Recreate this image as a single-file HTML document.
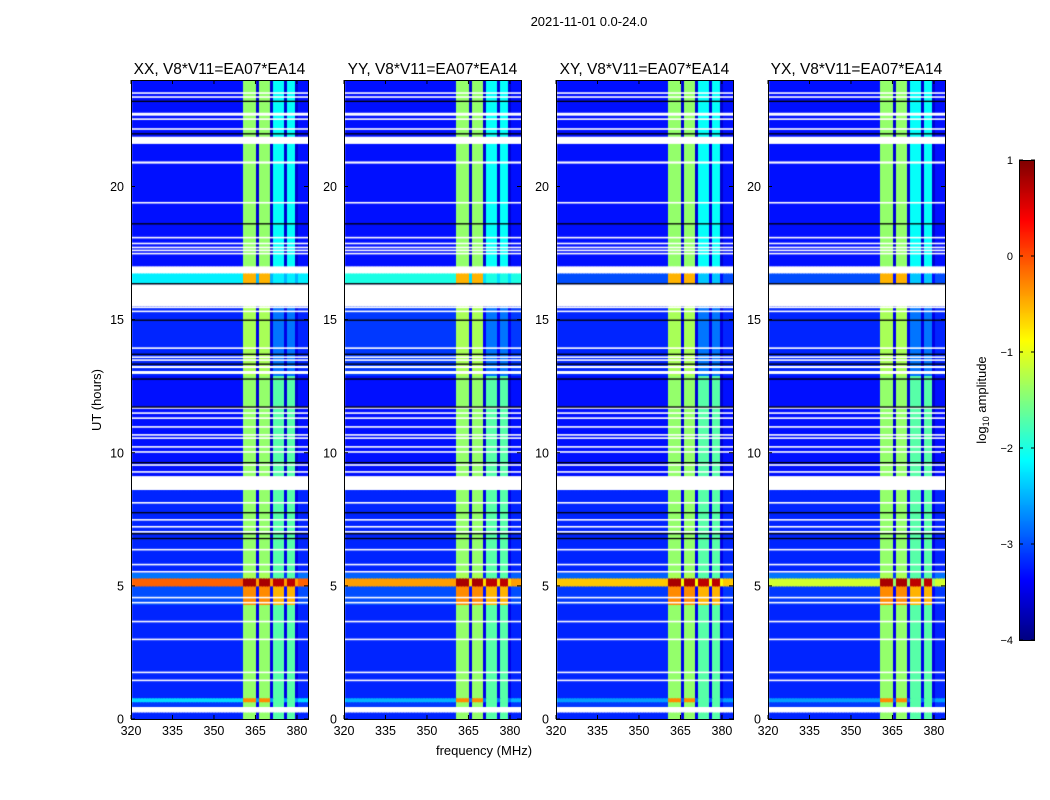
<!DOCTYPE html>
<html><head><meta charset="utf-8">
<style>
body{margin:0;background:#fff;width:1050px;height:800px;overflow:hidden;font-family:"Liberation Sans",sans-serif;position:relative}
canvas{position:absolute}
svg{position:absolute;left:0;top:0}
</style></head>
<body>
<div id="root"></div>
<svg id="svg" width="1050" height="800"></svg>
<script>
// ---- data ----
const panelTitles = ["XX, V8*V11=EA07*EA14","YY, V8*V11=EA07*EA14","XY, V8*V11=EA07*EA14","YX, V8*V11=EA07*EA14"];
const xTicks = [320,335,350,365,380];
const yTicks = [0,5,10,15,20];
const cbTicks = [1,0,-1,-2,-3,-4];
// frequency channel RFI band group (0=none, 1..4 bands, 9=gap)
const channelStartMHz = 320, channelCount = 64;
const bandGroup = [0,0,0,0,0,0,0,0,0,0,0,0,0,0,0,0,0,0,0,0,0,0,0,0,0,0,0,0,0,0,0,0,0,0,0,0,0,0,0,0,
  1,1,1,1,1,9,2,2,2,2,9,3,3,3,3,9,4,4,4,9,0,0,0,0];
// time segments: start h, end h, background log-amp, band1/2 level, band3/4 level
const segStart = [0,   0.45, 0.65, 0.8, 4.3, 5.0, 5.3, 5.5, 9.1, 12.9, 16.3, 16.37, 17.0];
const segEnd   = [0.25,0.65, 0.8,  4.3, 5.0, 5.3, 5.5, 8.6, 12.9,15.5, 16.37,16.74, 24.0];
const segBgXX  = [-3.2,-3.1,-2.3,-3.2,-3.0,-0.1,-2.8,-3.2,-3.3,-3.2,-3.2,-2.2,-3.3];
const segBgYY  = [-3.2,-3.1,-2.5,-3.2,-3.0,-0.4,-2.9,-3.2,-3.3,-3.1,-3.2,-2.0,-3.3];
const segBgXY  = [-3.2,-3.1,-2.6,-3.2,-3.1,-0.6,-2.9,-3.2,-3.3,-3.2,-3.2,-3.0,-3.3];
const segBgYX  = [-3.2,-3.1,-2.6,-3.2,-3.1,-1.1,-2.8,-3.2,-3.3,-3.2,-3.2,-3.0,-3.3];
const segBandA = [-1.4,-1.4,-0.3,-1.4,-0.3, 0.8,-1.3,-1.4,-1.4,-1.3,-1.3,-0.5,-1.4];
const segBandB = [-1.7,-1.7,-1.7,-1.7,-0.5, 0.7,-1.7,-1.7,-1.7,-2.8,-2.8,-2.4,-2.1];
// flagged (white) rows, hours
const flagStart = [0.25,1.42,1.72,2.96,3.63,4.34,4.53,5.5,5.77,6.33,7.0,7.19,7.45,8.09,8.6,9.06,9.25,9.51,10.0,10.19,10.52,10.64,10.94,11.27,11.46,11.65,12.96,13.18,13.45,13.56,13.9,15.28,15.43,15.5,16.74,17.45,17.57,17.68,17.83,18.05,19.36,20.86,21.6,22.13,22.5,22.66,23.33,23.48];
const flagEnd   = [0.45,1.48,1.78,3.02,3.69,4.40,4.59,5.56,5.83,6.39,7.06,7.25,7.51,8.15,9.1, 9.12,9.31,9.57,10.06,10.25,10.58,10.70,11.0,11.33,11.52,11.71,13.07,13.26,13.51,13.62,13.96,15.34,15.49,16.33,17.0,17.51,17.63,17.74,17.89,18.11,19.42,20.94,21.87,22.19,22.56,22.77,23.39,23.54];
// black (zero) rows, hours
const blackRows = [6.78,6.96,7.75,9.63,11.72,12.77,13.33,13.7,14.98,16.35,18.6,21.98,23.2];

// ---- layout ----
const panelLeft=[131,344,556,768], panelW=177, plotTop=80, plotBottom=719;
const yScale=h=>plotBottom-(h/24)*(plotBottom-plotTop);
const xScale=f=>(f-320)/64*panelW;
function jet(v){let t=(v+4)/5;t=Math.max(0,Math.min(1,t));
 const r=Math.max(0,Math.min(1,1.5-Math.abs(4*t-3))),g=Math.max(0,Math.min(1,1.5-Math.abs(4*t-2))),b=Math.max(0,Math.min(1,1.5-Math.abs(4*t-1)));
 return `rgb(${Math.round(r*255)},${Math.round(g*255)},${Math.round(b*255)})`;}
const NS="http://www.w3.org/2000/svg";
const svgEl=document.getElementById('svg');
function T(x,y,s,size,anchor,extra){const e=document.createElementNS(NS,'text');e.setAttribute('x',x);e.setAttribute('y',y);e.setAttribute('font-size',size);e.setAttribute('text-anchor',anchor||'middle');e.setAttribute('font-family','Liberation Sans, sans-serif');if(extra)e.setAttribute('transform',extra);e.textContent=s;svgEl.appendChild(e);return e;}
function L(x1,y1,x2,y2,c,w){const e=document.createElementNS(NS,'line');e.setAttribute('x1',x1);e.setAttribute('y1',y1);e.setAttribute('x2',x2);e.setAttribute('y2',y2);e.setAttribute('stroke',c||'#000');e.setAttribute('stroke-width',w||1);svgEl.appendChild(e);return e;}
const bgs=[segBgXX,segBgYY,segBgXY,segBgYX];
const rootEl=document.getElementById('root');
panelLeft.forEach((px,p)=>{
 const c=document.createElement('canvas');c.width=panelW;c.height=plotBottom-plotTop;c.style.left=px+'px';c.style.top=plotTop+'px';
 
 
 rootEl.appendChild(c);const ctx=c.getContext('2d');
 ctx.fillStyle='#fff';ctx.fillRect(0,0,c.width,c.height);
 for(let s=0;s<segStart.length;s++){
  const y0=yScale(segEnd[s])-plotTop,y1=yScale(segStart[s])-plotTop;
  for(let ch=0;ch<channelCount;ch++){
   const g=bandGroup[ch];let v=bgs[p][s];
   if(g===1||g===2)v=Math.max(v,segBandA[s]);
   else if(g===3||g===4)v=Math.max(v,segBandB[s]);
   else if(g===9)v=Math.max(v-0.3,-3.6);
   ctx.fillStyle=jet(v);
   const xa=xScale(channelStartMHz+ch+0.5),xb=xScale(channelStartMHz+ch+1.5);
   ctx.fillRect(Math.floor(xa),y0,Math.ceil(xb)-Math.floor(xa),y1-y0+0.5);
  }}
 ctx.fillStyle='#fff';
 for(let i=0;i<flagStart.length;i++){const y0=yScale(flagEnd[i])-plotTop,y1=yScale(flagStart[i])-plotTop;ctx.fillRect(0,y0,panelW,y1-y0);}
 ctx.fillStyle='#000';
 blackRows.forEach(h=>{ctx.fillRect(0,yScale(h)-plotTop-0.6,panelW,1.3);});
 const r=document.createElementNS(NS,'rect');r.setAttribute('x',px+0.5);r.setAttribute('y',plotTop+0.5);r.setAttribute('width',panelW);r.setAttribute('height',plotBottom-plotTop);r.setAttribute('fill','none');r.setAttribute('stroke','#000');
 
 
 svgEl.appendChild(r);
 const t=T(px+panelW/2,74,panelTitles[p],15.5);
 
 
 xTicks.forEach(f=>{const x=px+xScale(f);L(x,plotTop,x,plotTop+4);L(x,plotBottom,x,plotBottom-4);
  const tl=T(x,735,String(f),12.5);
  
  });
 yTicks.forEach(h=>{const y=yScale(h);L(px,y,px+4,y);L(px+panelW,y,px+panelW-4,y);
  const tl=T(px-7,y+4.5,String(h),12.5,'end');
  
  });
});
const st=T(589,26,"2021-11-01 0.0-24.0",13);


const yl=T(101,400,"UT (hours)",13,'middle','rotate(-90 101 400)');


const xl=T(484,755,"frequency (MHz)",13);


const cb=document.createElement('canvas');cb.width=16;cb.height=480;cb.style.left='1019px';cb.style.top='160px';


rootEl.appendChild(cb);const cx=cb.getContext('2d');
for(let i=0;i<480;i++){cx.fillStyle=jet(1-5*i/480);cx.fillRect(0,i,16,1);}
const cr=document.createElementNS(NS,'rect');cr.setAttribute('x',1019.5);cr.setAttribute('y',160.5);cr.setAttribute('width',15);cr.setAttribute('height',480);cr.setAttribute('fill','none');cr.setAttribute('stroke','#000');svgEl.appendChild(cr);
cbTicks.forEach(v=>{const y=160+(1-v)/5*480;L(1019,y,1023,y);L(1035,y,1031,y);
 const tl=T(1013,y+4,v<0?'\u2212'+Math.abs(v):String(v),11,'end');
 
 });
const cl=document.createElementNS(NS,'text');cl.setAttribute('x',986);cl.setAttribute('y',400);cl.setAttribute('font-size',13);cl.setAttribute('text-anchor','middle');cl.setAttribute('font-family','Liberation Sans, sans-serif');cl.setAttribute('transform','rotate(-90 986 400)');
cl.innerHTML='log<tspan font-size="9" dy="3">10</tspan><tspan dy="-3"> amplitude</tspan>';


svgEl.appendChild(cl);
</script>
</body></html>
